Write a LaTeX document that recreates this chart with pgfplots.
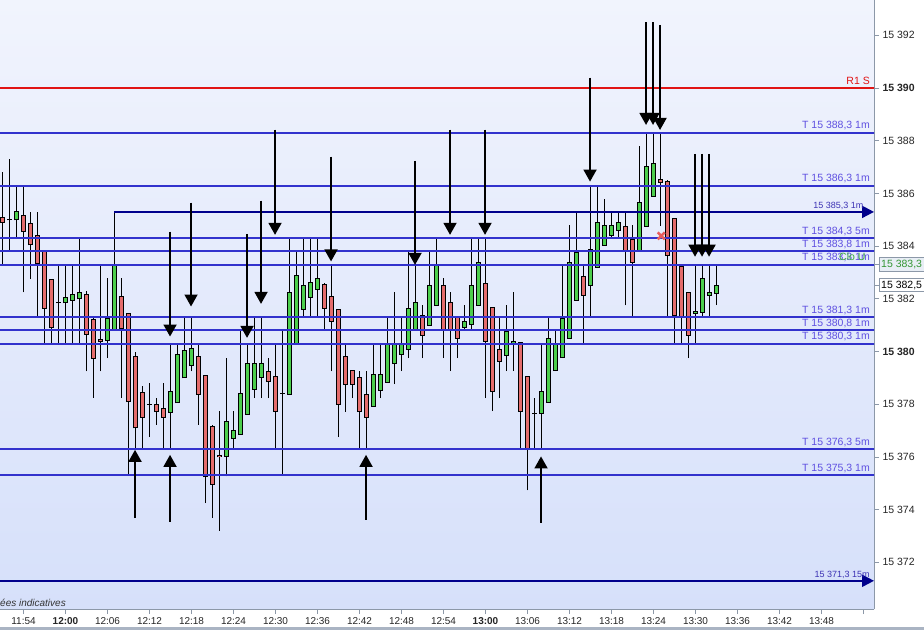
\documentclass[border=0pt]{standalone}
\usepackage{fontspec}
\setmainfont{Liberation Sans}
\usepackage{pgfplots}
\pgfplotsset{compat=1.18}
\usepackage{pgfplotstable}
\usetikzlibrary{arrows.meta}

\definecolor{bgtop}{RGB}{241,244,253}
\definecolor{bgbot}{RGB}{214,224,250}
\definecolor{lvl}{RGB}{50,50,205}
\definecolor{navy}{RGB}{0,0,140}
\definecolor{lvltext}{RGB}{95,80,225}
\definecolor{navytext}{RGB}{60,50,180}
\definecolor{candup}{RGB}{76,206,76}
\definecolor{canddn}{RGB}{228,108,108}
\definecolor{axgray}{RGB}{140,152,168}
\definecolor{cloG}{RGB}{60,175,60}
\definecolor{r1}{RGB}{225,20,20}
\definecolor{boxfill}{RGB}{232,238,245}
\definecolor{barbot}{RGB}{170,180,195}

% 1 minute candles: m = minutes after 11:54, prices minus 15380
\pgfplotstableread{
m o h l c
-3 5.1 6.8 3.3 4.9
-2 5.0 7.3 3.85 5.0
-1 5.0 6.3 4.3 5.3
0 5.15 6.3 2.25 4.55
1 4.85 5.3 2.75 4.05
2 4.4 5.3 1.3 3.35
3 3.85 3.85 0.3 1.65
4 2.75 2.75 0.3 0.9
5 1.85 3.3 0.3 1.85
6 1.85 3.3 0.3 2.05
7 1.95 3.3 0.3 2.15
8 2.0 4.3 0.3 2.25
9 2.15 2.3 -0.75 0.65
10 1.2 1.3 -1.75 -0.25
11 0.47 3.3 -0.75 0.38
12 0.42 2.8 -0.25 1.27
13 0.82 5.3 0.8 3.3
14 2.08 2.8 -1.75 0.89
15 1.46 1.46 -4.7 -1.9
16 -0.2 0.0 -3.7 -2.9
17 -1.55 -1.3 -3.7 -2.5
18 -2.0 -1.2 -3.25 -2.0
19 -2.0 -1.77 -2.78 -2.28
20 -2.15 -1.2 -3.7 -2.5
21 -2.3 0.25 -3.7 -1.5
22 -1.95 0.3 -1.95 -0.1
23 -1.0 1.3 -1.0 0.05
24 -0.53 1.3 -0.75 0.13
25 -0.17 0.3 -2.78 -1.62
26 -0.9 -0.9 -5.75 -4.75
27 -2.83 -2.8 -6.3 -5.03
28 -3.93 -2.25 -6.8 -4.0
29 -3.97 -0.25 -4.74 -2.64
30 -3.3 -2.25 -3.7 -3.0
31 -3.15 0.8 -3.15 -1.6
32 -2.38 0.3 -2.38 -0.47
33 -1.43 1.3 -1.77 -0.47
34 -0.97 1.3 -1.77 -0.47
35 -0.74 -0.25 -1.77 -1.14
36 -0.93 0.25 -3.7 -2.26
37 -1.58 0.8 -4.72 -1.58
38 -1.62 4.3 -1.62 2.25
39 0.32 3.8 0.3 2.9
40 1.6 4.3 1.3 2.52
41 2.06 4.3 1.3 2.63
42 2.37 4.3 1.3 2.79
43 2.56 2.6 0.8 1.65
44 2.1 3.3 -0.75 1.15
45 1.6 1.6 -3.25 -2.0
46 -0.17 0.25 -2.28 -1.24
47 -0.7 -0.7 -1.77 -1.24
48 -0.97 -0.73 -3.7 -2.28
49 -1.62 -0.73 -3.7 -2.49
50 -2.07 0.25 -2.07 -0.86
51 -1.47 0.25 -1.77 -0.86
52 -1.16 1.3 -1.16 0.25
53 -0.44 2.25 -1.24 0.25
54 -0.1 1.3 -0.74 0.25
55 0.09 3.8 -0.25 1.65
56 0.85 3.3 0.8 1.87
57 1.38 1.76 -0.25 0.62
58 1.0 3.8 1.0 2.52
59 1.76 4.3 1.76 3.28
60 2.52 2.8 -0.25 0.85
61 1.87 2.25 -0.74 0.85
62 1.34 1.34 -0.25 0.51
63 0.93 1.76 0.85 1.15
64 1.04 4.3 0.8 2.52
65 1.76 4.3 1.76 3.39
66 2.6 4.3 -1.77 0.39
67 1.68 1.7 -2.26 -1.5
68 0.09 1.3 -1.77 -0.36
69 -0.14 1.76 -0.74 0.77
70 0.32 2.25 -0.74 0.39
71 0.36 0.36 -3.7 -2.26
72 -0.93 -0.93 -5.27 -3.7
73 -2.36 -1.77 -3.7 -2.36
74 -2.36 0.25 -3.7 -1.52
75 -1.92 1.3 -1.92 0.51
76 -0.72 0.8 -0.74 0.25
77 -0.23 3.3 -0.25 1.27
78 0.51 4.8 0.5 3.39
79 1.95 5.3 1.95 3.77
80 2.86 3.3 0.3 2.14
81 2.52 6.3 1.3 3.89
82 3.2 6.3 3.2 4.91
83 4.04 5.78 4.04 4.8
84 4.42 5.3 4.3 4.8
85 4.61 5.3 4.3 4.91
86 4.76 5.3 1.75 3.83
87 4.27 4.8 1.3 3.39
88 3.83 7.8 3.83 5.67
89 4.76 8.3 4.76 7.04
90 5.9 8.3 5.9 7.15
91 6.54 8.3 4.78 6.43
92 6.47 6.5 1.3 3.66
93 5.06 5.06 0.3 1.38
94 3.24 3.3 0.3 1.3
95 2.25 2.25 -0.25 0.62
96 1.46 3.3 0.3 1.53
97 1.5 3.3 1.3 2.77
98 2.14 3.3 1.3 2.25
99 2.22 3.3 1.76 2.52
}\candles

\pgfplotsset{
  cbar/.style n args={2}{forget plot, draw=none, mark=none,
    error bars/.cd, y dir=plus, y explicit, error mark=none,
    error bar style={draw=#1, line width=#2, solid}},
}
% level line with its label
\newcommand{\lvl}[2]{%
  \addplot[lvl, line width=2pt, forget plot] coordinates {(-3.4,#1) (121.6,#1)};
  \node[lvltext, anchor=base east, inner sep=0pt, yshift=4pt, font=\fontsize{10.5}{12}\selectfont] at (axis cs:120.93,#1) {#2};}
% signal arrow, from -> tip
\newcommand{\sig}[3]{%
  \addplot[black, line width=1.7pt, -{Triangle[width=13pt,length=12pt]}, forget plot] coordinates {(#1,#2) (#1,#3)};}

\begin{document}
\begin{tikzpicture}
\fill[white] (0,-21pt) rectangle (924pt,609pt);
\fill[barbot] (0,-21pt) rectangle (924pt,-18pt);
\begin{axis}[
  at={(0,0)}, anchor=south west,
  x=7pt, y=26.35pt,
  xmin=-3.36, xmax=121.5,
  ymin=-9.77, ymax=13.35,
  axis background/.style={top color=bgtop, bottom color=bgbot},
  axis x line*=bottom, axis y line*=right,
  axis line style={axgray, line width=0.8pt},
  tick style={axgray, line width=0.8pt},
  tick align=outside, major tick length=5pt,
  xtick={0,6,...,120},
  xticklabels={11:54,\textbf{12:00},12:06,12:12,12:18,12:24,12:30,12:36,12:42,12:48,12:54,\textbf{13:00},13:06,13:12,13:18,13:24,13:30,13:36,13:42,13:48,{}},
  ytick={-8,-6,...,12},
  yticklabels={15 372,15 374,15 376,15 378,\textbf{15 380},15 382,15 384,15 386,15 388,\textbf{15 390},15 392},
  xticklabel style={font=\fontsize{10}{12}\selectfont, text=black!85},
  yticklabel style={font=\fontsize{10.5}{12}\selectfont, text=black!85},
]
% candles: wicks, black bodies, coloured fills
\addplot[cbar={black}{1pt}] table[x=m, y=l, y error plus expr={\thisrow{h}-\thisrow{l}}] {\candles};
\addplot[cbar={black}{5pt}] table[x=m, y expr={min(\thisrow{o},\thisrow{c})-0.019}, y error plus expr={abs(\thisrow{c}-\thisrow{o})+0.038}] {\candles};
\addplot[cbar={candup}{3pt}] table[x=m, y expr={(\thisrow{c}>\thisrow{o}) ? (\thisrow{o}+0.019) : nan}, y error plus expr={max(0,\thisrow{c}-\thisrow{o}-0.038)}] {\candles};
\addplot[cbar={canddn}{3pt}] table[x=m, y expr={(\thisrow{c}<\thisrow{o}) ? (\thisrow{c}+0.019) : nan}, y error plus expr={max(0,\thisrow{o}-\thisrow{c}-0.038)}] {\candles};

% resistance and target levels
\addplot[r1, line width=2pt, forget plot] coordinates {(-3.4,10) (121.6,10)};
\node[r1, anchor=base east, inner sep=0pt, yshift=4pt, font=\fontsize{10.5}{12}\selectfont] at (axis cs:120.93,10) {R1 S};
\lvl{8.3}{T 15 388,3 1m}
\lvl{6.3}{T 15 386,3 1m}
\lvl{4.3}{T 15 384,3 5m}
\lvl{3.8}{T 15 383,8 1m}
\lvl{3.3}{T 15 383,3 1m}
\lvl{1.3}{T 15 381,3 1m}
\lvl{0.8}{T 15 380,8 1m}
\lvl{0.3}{T 15 380,3 1m}
\lvl{-3.7}{T 15 376,3 5m}
\lvl{-4.7}{T 15 375,3 1m}
\node[cloG, anchor=base, yshift=4pt, font=\fontsize{10.5}{12}\selectfont] at (axis cs:118.4,3.3) {Clo U};

\addplot[navy, line width=2pt, -{Triangle[width=12pt,length=12pt]}, forget plot] coordinates {(12.93,5.3) (121.5,5.3)};
\node[navytext, anchor=base east, inner sep=0pt, yshift=3.5pt, font=\fontsize{9}{10}\selectfont] at (axis cs:120.0,5.3) {15 385,3 1m};
\addplot[navy, line width=2pt, -{Triangle[width=12pt,length=12pt]}, forget plot] coordinates {(-3.4,-8.7) (121.5,-8.7)};
\node[navytext, anchor=base east, inner sep=0pt, yshift=3.5pt, font=\fontsize{9}{10}\selectfont] at (axis cs:120.9,-8.7) {15 371,3 15m};

% signals
\sig{20.93}{4.55}{0.57}
\sig{23.93}{5.65}{1.71}
\sig{31.93}{4.47}{0.52}
\sig{33.93}{5.73}{1.81}
\sig{35.93}{8.42}{4.43}
\sig{43.93}{7.4}{3.42}
\sig{55.93}{7.24}{3.29}
\sig{60.93}{8.42}{4.43}
\sig{65.93}{8.42}{4.43}
\sig{80.93}{10.4}{6.45}
\sig{88.93}{12.5}{8.6}
\sig{89.93}{12.5}{8.6}
\sig{90.93}{12.4}{8.41}
\sig{95.93}{7.5}{3.6}
\sig{96.93}{7.5}{3.6}
\sig{97.93}{7.5}{3.6}
\sig{15.93}{-6.32}{-3.73}
\sig{20.93}{-6.45}{-3.92}
\sig{48.93}{-6.39}{-3.92}
\sig{73.93}{-6.5}{-3.98}

\addplot[only marks, mark=x, mark size=5pt, line width=2.6pt, color=canddn!85!red, forget plot] coordinates {(91.1,4.39)};

\coordinate (pc) at (axis cs:121.5,3.3);
\coordinate (pl) at (axis cs:121.5,2.52);
\end{axis}
\draw[axgray, line width=0.8pt] (pc) -- ++(5pt,0);
\node[draw=axgray, fill=boxfill, anchor=west, inner sep=2pt, minimum height=14pt, text=cloG!85!black, font=\fontsize{10.5}{12}\selectfont] at ([xshift=5pt]pc) {15 383,3};
\draw[axgray, line width=0.8pt] (pl) -- ++(5pt,0);
\node[draw=axgray, fill=white, anchor=west, inner sep=2pt, minimum height=13pt, font=\fontsize{10.5}{12}\selectfont] at ([xshift=5pt]pl) {15 382,5};
\node[anchor=base west, inner sep=0pt, text=black!80, font=\itshape\fontsize{10}{12}\selectfont] at (0,3pt) {ées indicatives};
\pgfresetboundingbox
\useasboundingbox (0,-21pt) rectangle (924pt,609pt);
\end{tikzpicture}
\end{document}
